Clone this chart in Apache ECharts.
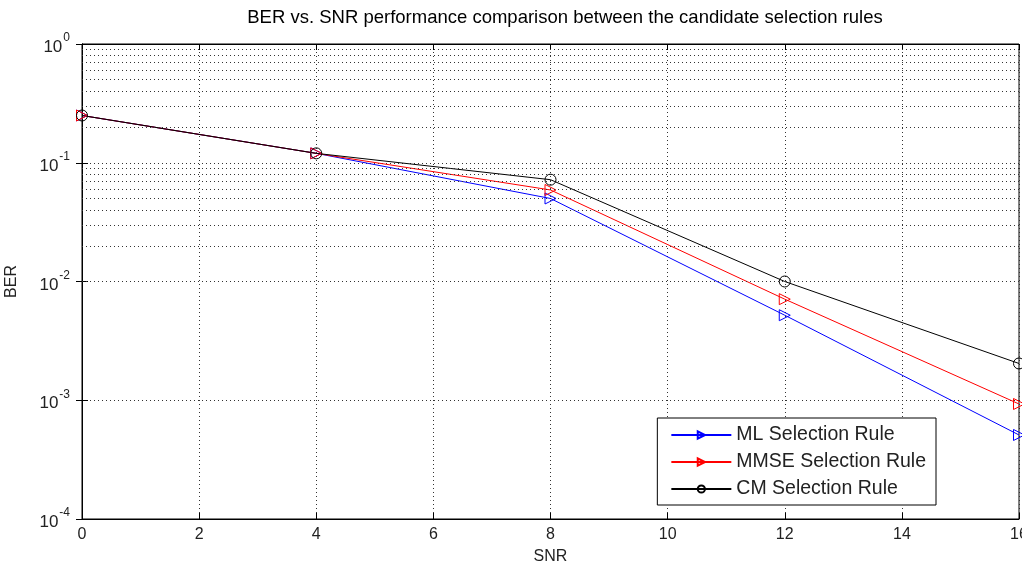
<!DOCTYPE html>
<html>
<head>
<meta charset="utf-8">
<script src="https://cdn.jsdelivr.net/npm/echarts@6/dist/echarts.min.js"></script>
<style>
html, body { margin: 0; padding: 0; background: #fff; }
#ber { width: 1022px; height: 569px; }
</style>
</head>
<body>
<div id="ber"></div>
<script>
var snr = [0, 4, 8, 12, 16];
var berML = [0.25, 0.12, 0.05, 0.0052, 0.00051];
var berMMSE = [0.25, 0.12, 0.059, 0.0071, 0.00093];
var berCM = [0.25, 0.12, 0.072, 0.01, 0.00204];
var seriesNames = ['ML Selection Rule', 'MMSE Selection Rule', 'CM Selection Rule'];

var myChart = echarts.init(document.getElementById('ber'));
var font = 'Liberation Sans, Arial, sans-serif';

function pairs(arr) {
	return snr.map(function (x, i) { return [x, arr[i]]; });
}

// dotted minor grid at 2..9 of each decade
var minorGrid = [];
for (var d = -4; d < 0; d++) {
	for (var k = 2; k <= 9; k++) {
		minorGrid.push({ yAxis: k * Math.pow(10, d) });
	}
}

var dotted = { color: '#333', width: 1, type: [1, 3] };

function mkSeries(name, data, color, symbol) {
	return {
		name: name,
		type: 'line',
		data: pairs(data),
		symbol: symbol,
		symbolSize: 11,
		symbolRotate: symbol === 'triangle' ? -90 : 0,
		showAllSymbol: true,
		lineStyle: { color: color, width: 1 },
		itemStyle: { color: 'rgba(255,255,255,0)', borderColor: color, borderWidth: 1 },
		emphasis: { disabled: true },
		z: 3
	};
}

option = {
	animation: false,
	backgroundColor: '#fff',
	title: {
		text: 'BER vs. SNR performance comparison between the candidate selection rules',
		left: 560,
		top: 3,
		textAlign: 'center',
		textStyle: { fontFamily: font, fontSize: 18.5, fontWeight: 'normal', color: '#000' }
	},
	grid: {
		left: 82,
		right: 3,
		top: 44,
		bottom: 50,
		containLabel: false,
		outerBoundsMode: 'none',
		show: true,
		borderColor: '#000',
		borderWidth: 1,
		backgroundColor: '#fff'
	},
	legend: {
		orient: 'vertical',
		right: 86,
		bottom: 64,
		data: seriesNames,
		itemWidth: 60,
		itemHeight: 9,
		itemGap: 7,
		padding: [7, 10, 6, 13],
		backgroundColor: '#fff',
		borderColor: '#000',
		borderWidth: 1,
		textStyle: { fontFamily: font, fontSize: 19.5, color: '#222', padding: [0, 0, 0, 0] }
	},
	xAxis: [{
		type: 'value',
		name: 'SNR',
		nameLocation: 'middle',
		nameGap: 30,
		nameTextStyle: { fontFamily: font, fontSize: 16, color: '#222' },
		min: 0,
		max: 16,
		interval: 2,
		axisLine: { lineStyle: { color: '#000' } },
		axisTick: { inside: true, length: 6, lineStyle: { color: '#000' } },
		axisLabel: { fontFamily: font, fontSize: 16, color: '#222', margin: 8 },
		splitLine: { show: true, lineStyle: dotted }
	}, {
		type: 'value',
		position: 'top',
		min: 0,
		max: 16,
		interval: 2,
		axisLine: { lineStyle: { color: '#000' } },
		axisTick: { inside: true, length: 6, lineStyle: { color: '#000' } },
		axisLabel: { show: false },
		splitLine: { show: false }
	}],
	yAxis: [{
		type: 'log',
		name: 'BER',
		nameLocation: 'middle',
		nameGap: 62,
		nameRotate: 90,
		nameTextStyle: { fontFamily: font, fontSize: 16, color: '#222' },
		min: 0.0001,
		max: 1,
		logBase: 10,
		axisLine: { lineStyle: { color: '#000' } },
		axisTick: { inside: true, length: 6, lineStyle: { color: '#000' } },
		axisLabel: {
			margin: 12,
			formatter: function (v) {
				var e = Math.round(Math.log10(v));
				return '{b|10}{s|' + e + '}';
			},
			rich: {
				b: { fontFamily: font, fontSize: 17, color: '#222', verticalAlign: 'bottom' },
				s: { fontFamily: font, fontSize: 12, color: '#222', verticalAlign: 'top', padding: [0, 0, 12, 1] }
			}
		},
		splitLine: { show: true, lineStyle: dotted }
	}, {
		type: 'log',
		position: 'right',
		min: 0.0001,
		max: 1,
		logBase: 10,
		axisLine: { lineStyle: { color: '#000' } },
		axisTick: { inside: true, length: 6, lineStyle: { color: '#000' } },
		axisLabel: { show: false },
		splitLine: { show: false }
	}],
	series: [
		mkSeries(seriesNames[0], berML, '#0000ff', 'triangle'),
		mkSeries(seriesNames[1], berMMSE, '#ff0000', 'triangle'),
		mkSeries(seriesNames[2], berCM, '#000000', 'circle'),
		{
			name: 'grid',
			type: 'line',
			data: [],
			silent: true,
			markLine: {
				silent: true,
				symbol: ['none', 'none'],
				label: { show: false },
				lineStyle: dotted,
				animation: false,
				data: minorGrid
			},
			z: 1
		}
	]
};

myChart.setOption(option);
window.addEventListener('resize', function () {
	myChart.resize();
});
</script>
</body>
</html>
